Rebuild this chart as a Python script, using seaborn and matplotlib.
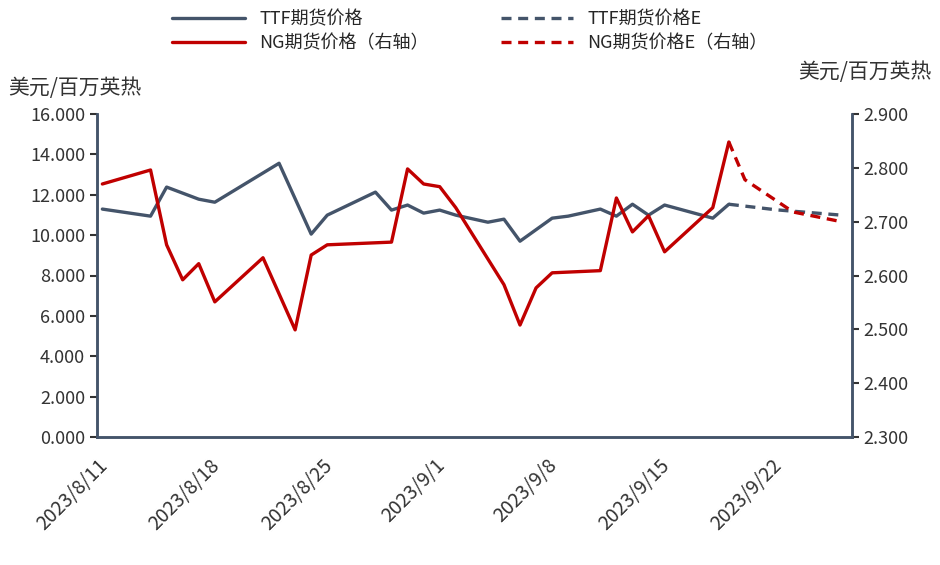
import matplotlib
matplotlib.use("Agg")
import matplotlib.pyplot as plt
import seaborn as sns
import pandas as pd

sns.set_style("white")
plt.rcParams['font.family'] = ['Noto Sans CJK SC', 'DejaVu Sans']

ttf_dates = ["2023-08-11","2023-08-14","2023-08-15","2023-08-17","2023-08-18","2023-08-22","2023-08-24",
             "2023-08-25","2023-08-28","2023-08-29","2023-08-30","2023-08-31","2023-09-01","2023-09-02",
             "2023-09-04","2023-09-05","2023-09-06","2023-09-08","2023-09-09","2023-09-11","2023-09-12",
             "2023-09-13","2023-09-14","2023-09-15","2023-09-18","2023-09-19"]
ttf_vals = [11.29,10.94,12.38,11.78,11.63,13.56,10.05,10.99,12.13,11.24,11.49,11.09,11.24,10.99,
            10.64,10.79,9.70,10.84,10.94,11.29,10.94,11.53,10.99,11.49,10.84,11.53]
ttf_e_dates = ["2023-09-19","2023-09-22","2023-09-26"]
ttf_e_vals = [11.53,11.25,10.99]

ng_dates = ["2023-08-11","2023-08-14","2023-08-15","2023-08-16","2023-08-17","2023-08-18","2023-08-21",
            "2023-08-23","2023-08-24","2023-08-25","2023-08-29","2023-08-30","2023-08-31","2023-09-01",
            "2023-09-02","2023-09-05","2023-09-06","2023-09-07","2023-09-08","2023-09-11","2023-09-12",
            "2023-09-13","2023-09-14","2023-09-15","2023-09-18","2023-09-19"]
ng_vals = [2.770,2.796,2.657,2.592,2.622,2.551,2.633,2.499,2.638,2.657,2.662,2.798,2.770,2.765,
           2.726,2.583,2.508,2.577,2.605,2.609,2.744,2.681,2.711,2.644,2.726,2.848]
ng_e_dates = ["2023-09-19","2023-09-20","2023-09-23","2023-09-26"]
ng_e_vals = [2.848,2.778,2.718,2.700]

xticks = ["2023-08-11","2023-08-18","2023-08-25","2023-09-01","2023-09-08","2023-09-15","2023-09-22"]
xtick_labels = ["2023/8/11","2023/8/18","2023/8/25","2023/9/1","2023/9/8","2023/9/15","2023/9/22"]

navy = "#44546A"
red = "#C00000"

fig = plt.figure(figsize=(9.4, 5.65), dpi=100)
ax = fig.add_axes([97/940, 1-437/565, (852-97)/940, (437-114)/565])
ax2 = ax.twinx()

shift = pd.Timedelta(hours=8)
df1 = pd.DataFrame({"d": pd.to_datetime(ttf_dates) + shift, "v": ttf_vals})
df1e = pd.DataFrame({"d": pd.to_datetime(ttf_e_dates) + shift, "v": ttf_e_vals})
df2 = pd.DataFrame({"d": pd.to_datetime(ng_dates) + shift, "v": ng_vals})
df2e = pd.DataFrame({"d": pd.to_datetime(ng_e_dates) + shift, "v": ng_e_vals})

sns.lineplot(data=df1, x="d", y="v", ax=ax, color=navy, lw=2.4, label="TTF期货价格", legend=False)
sns.lineplot(data=df1e, x="d", y="v", ax=ax, color=navy, lw=2.4, ls=(0, (3, 2)), label="TTF期货价格E", legend=False)
sns.lineplot(data=df2, x="d", y="v", ax=ax2, color=red, lw=2.4, label="NG期货价格（右轴）", legend=False)
sns.lineplot(data=df2e, x="d", y="v", ax=ax2, color=red, lw=2.4, ls=(0, (3, 2)), label="NG期货价格E（右轴）", legend=False)

ax.set_xlim(pd.Timestamp("2023-08-11"), pd.Timestamp("2023-09-27"))
ax.set_ylim(0, 16)
ax.set_yticks([i*2 for i in range(9)])
ax.set_yticklabels([f"{i*2:.3f}" for i in range(9)])
ax2.set_ylim(2.3, 2.9)
ax2.set_yticks([2.3+0.1*i for i in range(7)])
ax2.set_yticklabels([f"{2.3+0.1*i:.3f}" for i in range(7)])
ax.set_xticks(pd.to_datetime(xticks))
ax.set_xticklabels(xtick_labels, rotation=45, ha="right", rotation_mode="anchor")
for a in (ax, ax2):
    a.set_xlabel(""); a.set_ylabel("")
    a.spines["top"].set_visible(False)
    a.tick_params(labelsize=13, colors="#333333", length=5, width=1.5, direction="out")
    for s in ("left", "right", "bottom"):
        a.spines[s].set_color(navy); a.spines[s].set_linewidth(1.8)
ax.tick_params(axis="x", pad=8, labelsize=14)
ax.tick_params(axis="y", left=True)
ax2.tick_params(axis="y", right=True)

fig.text(8/940, 1-88/565, "美元/百万英热", fontsize=15, va="center", color="#333333")
fig.text(932/940, 1-72/565, "美元/百万英热", fontsize=15, va="center", ha="right", color="#333333")

h1, l1 = ax.get_legend_handles_labels()
h2, l2 = ax2.get_legend_handles_labels()
handles = [h1[0], h2[0], h1[1], h2[1]]
labels = [l1[0], l2[0], l1[1], l2[1]]
fig.legend(handles, labels, ncol=2, loc="upper center", bbox_to_anchor=(0.5, 1.01), frameon=False,
           fontsize=13, handlelength=4, columnspacing=4, labelspacing=0.3)

fig.savefig("out.png", dpi=100)
